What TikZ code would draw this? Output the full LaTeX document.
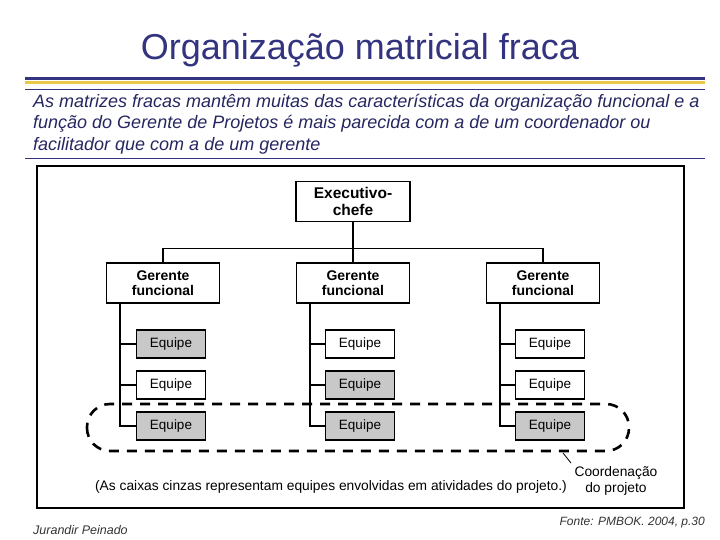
\documentclass[tikz,border=0pt]{standalone}
\usepackage{fontspec}
\setmainfont{Liberation Sans}
\usepackage{xcolor}
\usetikzlibrary{positioning}
\definecolor{slidenavy}{HTML}{333380}
\definecolor{slidegold}{HTML}{E8C84A}
\definecolor{slidetext}{HTML}{262660}
\definecolor{teamgray}{HTML}{C8C8C8}

\begin{document}
\begin{tikzpicture}[x=1pt,y=-1pt,
  boss/.style={draw, line width=1.2pt, fill=white, minimum width=113pt, minimum height=40pt, align=center, font=\fontsize{14}{15}\selectfont\bfseries},
  team/.style={draw, line width=1.2pt, fill=#1, minimum width=69pt, minimum height=28pt, font=\fontsize{13.5}{15}\selectfont},
  team/.default=white,
  link/.style={line width=1.2pt}
]
  \useasboundingbox (0,0) rectangle (720,540);

  % header
  \node[text=slidenavy, font=\fontsize{36}{40}\selectfont] (title) at (360,50) {Organização matricial fraca};
  \draw[slidenavy, line width=3pt] (25,79) -- (705,79);
  \draw[slidegold, line width=3pt] (25,82.5) -- (705,82.5);
  \draw[slidenavy, line width=0.8pt] (25,89) -- (705,89);
  \node[anchor=north west, align=left, text=slidetext, inner sep=0pt,
        font=\fontsize{18}{21.5}\selectfont\itshape] (intro) at (33,94)
    {As matrizes fracas mantêm muitas das características da organização funcional e a\\
     função do Gerente de Projetos é mais parecida com a de um coordenador ou\\
     facilitador que com a de um gerente};
  \draw[slidenavy, line width=0.8pt] (25,158) -- (705,158);

  % figure frame
  \draw[line width=2.5pt] (37,166) rectangle (684,508);

  % chart
  \node[boss, minimum width=114pt, font=\fontsize{15.5}{16.5}\selectfont\bfseries] (exec) at (353,201.5) {Executivo-\\chefe};
  \node[boss] (g1) at (163,283) {Gerente\\funcional};
  \node[boss] (g2) at (353,283) {Gerente\\funcional};
  \node[boss] (g3) at (543,283) {Gerente\\funcional};

  \draw[link] (exec.south) -- (g2.north);
  \draw[link] (g1.north) -- ++(0,-14) -| (g3.north);

  % equipes
  \node[team=teamgray] (e11) at (171,344) {Equipe};
  \node[team]          (e12) at (171,385) {Equipe};
  \node[team=teamgray] (e13) at (171,426) {Equipe};
  \node[team]          (e21) at (360,344) {Equipe};
  \node[team=teamgray] (e22) at (360,385) {Equipe};
  \node[team=teamgray] (e23) at (360,426) {Equipe};
  \node[team]          (e31) at (550,344) {Equipe};
  \node[team]          (e32) at (550,385) {Equipe};
  \node[team=teamgray] (e33) at (550,426) {Equipe};

  \foreach \g in {1,2,3}{
    \draw[link] ([xshift=14pt]g\g.south west) |- (e\g3.west);
    \draw[link] ([xshift=14pt]g\g.south west |- e\g1.west) -- (e\g1.west);
    \draw[link] ([xshift=14pt]g\g.south west |- e\g2.west) -- (e\g2.west);
  }

  % project coordination
  \draw[line width=2.6pt, dash pattern=on 10pt off 8pt, rounded corners=23pt]
    (87,404) rectangle (629,451);
  \coordinate (tip) at (563,453);
  \node[font=\fontsize{13.8}{16}\selectfont, align=center] (coord) at (616,481) {Coordenação\\do projeto};
  \draw[line width=0.8pt] (tip) -- (coord.north west);
  \node[font=\fontsize{13.8}{16}\selectfont] (note) at (331,487)
    {(As caixas cinzas representam equipes envolvidas em atividades do projeto.)};

  % footer
  \node[anchor=west, inner sep=0pt, font=\fontsize{12.5}{14}\selectfont\itshape, text=black!80] (author) at (33,530) {Jurandir Peinado};
  \node[anchor=east, inner sep=0pt, font=\fontsize{12}{14}\selectfont\itshape, text=black!80] (source) at (705,523) {Fonte: PMBOK. 2004, p.30};
\end{tikzpicture}
\end{document}
